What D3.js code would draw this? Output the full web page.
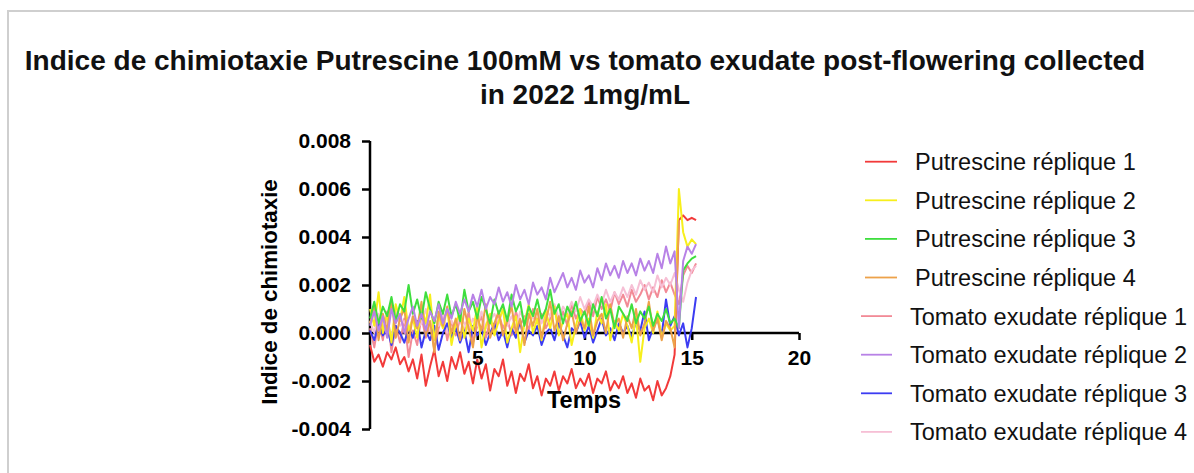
<!DOCTYPE html>
<html>
<head>
<meta charset="utf-8">
<script src="https://cdn.jsdelivr.net/npm/d3@7"></script>
<style>
  html, body { margin: 0; padding: 0; background: #fff; }
  svg { display: block; }
  text { font-family: "Liberation Sans", Arial, sans-serif; }
</style>
</head>
<body>
<svg id="chart" width="1194" height="473"></svg>
<script>
// ---------------- DATA ----------------
const titleLines = ["Indice de chimiotaxie Putrescine 100mM vs tomato exudate post-flowering collected", "in 2022 1mg/mL"];
const xTitle = "Temps";
const yTitle = "Indice de chimiotaxie";
const xTicks = [5, 10, 15, 20];
const yTicks = [-0.004, -0.002, 0.000, 0.002, 0.004, 0.006, 0.008];
const seriesNames = ["Putrescine réplique 1", "Putrescine réplique 2", "Putrescine réplique 3", "Putrescine réplique 4",
  "Tomato exudate réplique 1", "Tomato exudate réplique 2", "Tomato exudate réplique 3", "Tomato exudate réplique 4"];
const seriesColors = ["#f23a3a", "#f7ef1c", "#3ede3e", "#eda24a", "#f28a96", "#b882e6", "#3c3cf2", "#f6bfd5"];

const time = [0,0.2,0.4,0.6,0.8,1,1.2,1.4,1.6,1.8,2,2.2,2.4,2.6,2.8,3,3.2,3.4,3.6,3.8,
  4,4.2,4.4,4.6,4.8,5,5.2,5.4,5.6,5.8,6,6.2,6.4,6.6,6.8,7,7.2,7.4,7.6,7.8,
  8,8.2,8.4,8.6,8.8,9,9.2,9.4,9.6,9.8,10,10.2,10.4,10.6,10.8,11,11.2,11.4,11.6,11.8,
  12,12.2,12.4,12.6,12.8,13,13.2,13.4,13.6,13.8,14,14.2,14.4,14.6,14.8,15,15.2];

const putrescine1 = [-0.0005,-0.0012,-0.0009,-0.0014,-0.0008,-0.0011,-0.0006,-0.0013,-0.0010,-0.0016,
  -0.0011,-0.0019,-0.0009,-0.0022,-0.0014,-0.0007,-0.0018,-0.0012,-0.0020,-0.0010,
  -0.0015,-0.0008,-0.0017,-0.0012,-0.0021,-0.0011,-0.0019,-0.0013,-0.0024,-0.0015,
  -0.0018,-0.0011,-0.0022,-0.0016,-0.0025,-0.0017,-0.0020,-0.0013,-0.0023,-0.0018,
  -0.0026,-0.0019,-0.0022,-0.0016,-0.0024,-0.0018,-0.0021,-0.0015,-0.0023,-0.0019,
  -0.0022,-0.0017,-0.0025,-0.0019,-0.0021,-0.0016,-0.0024,-0.0020,-0.0023,-0.0018,
  -0.0025,-0.0021,-0.0027,-0.0019,-0.0024,-0.0022,-0.0028,-0.0020,-0.0026,-0.0023,
  -0.0018,-0.0009,0.0047,0.0049,0.0047,0.0048,0.0047];
const putrescine2 = [0.0010,0.0003,0.0017,0.0000,0.0008,-0.0004,0.0012,0.0005,0.0015,0.0001,
  0.0006,-0.0002,0.0011,0.0004,0.0016,-0.0003,0.0007,0.0002,0.0010,-0.0005,
  0.0004,0.0009,-0.0002,0.0006,0.0001,0.0011,-0.0006,0.0003,0.0008,-0.0001,
  0.0005,0.0010,-0.0004,0.0002,0.0007,-0.0008,0.0004,0.0012,0.0000,0.0006,
  -0.0003,0.0009,0.0002,0.0011,-0.0001,0.0005,0.0008,-0.0005,0.0003,0.0010,
  0.0001,0.0006,-0.0002,0.0009,0.0004,0.0012,-0.0003,0.0005,0.0001,0.0008,
  0.0003,-0.0004,0.0007,-0.0012,0.0002,0.0006,0.0000,0.0009,-0.0002,0.0004,
  0.0001,0.0003,0.0060,0.0042,0.0036,0.0039,0.0037];
const putrescine3 = [0.0006,0.0013,0.0004,0.0011,0.0007,0.0015,0.0005,0.0012,0.0009,0.0020,
  0.0008,0.0014,0.0006,0.0017,0.0010,0.0004,0.0013,0.0008,0.0016,0.0007,
  0.0012,0.0005,0.0018,0.0009,0.0013,0.0006,0.0015,0.0010,0.0004,0.0014,
  0.0008,0.0012,0.0005,0.0016,0.0009,0.0013,0.0003,0.0011,0.0007,0.0014,
  0.0006,0.0010,0.0018,0.0008,0.0012,0.0004,0.0011,0.0007,0.0013,0.0005,
  0.0009,0.0003,0.0012,0.0007,0.0015,0.0006,0.0010,0.0002,0.0011,0.0008,
  0.0005,0.0012,0.0004,0.0009,0.0006,0.0011,0.0003,0.0008,0.0005,0.0010,
  0.0004,0.0006,0.0002,0.0026,0.0029,0.0031,0.0032];
const putrescine4 = [0.0004,0.0012,-0.0003,0.0008,0.0001,0.0014,-0.0002,0.0006,0.0010,-0.0004,
  0.0007,0.0002,0.0013,-0.0001,0.0005,-0.0008,0.0009,0.0003,0.0011,0.0000,
  0.0006,-0.0003,0.0010,0.0002,-0.0006,0.0007,0.0001,0.0012,-0.0002,0.0004,
  0.0009,-0.0001,0.0005,0.0011,0.0000,0.0006,-0.0005,0.0008,0.0003,0.0010,
  -0.0002,0.0005,0.0013,0.0001,0.0007,-0.0003,0.0004,0.0009,0.0000,0.0006,
  0.0002,0.0011,-0.0001,0.0005,0.0008,0.0000,0.0012,0.0003,0.0006,-0.0002,
  0.0007,0.0002,0.0010,-0.0001,0.0004,0.0013,0.0001,0.0006,-0.0003,0.0005,
  0.0002,-0.0006,0.0047,null,null,null,null];
const tomato1 = [0.0002,-0.0006,0.0005,-0.0003,0.0009,-0.0008,0.0003,-0.0004,0.0006,-0.0010,
  0.0001,-0.0005,0.0007,-0.0002,0.0004,-0.0007,0.0002,0.0008,-0.0003,0.0005,
  -0.0001,0.0006,0.0000,0.0009,-0.0004,0.0003,0.0007,-0.0002,0.0005,0.0001,
  0.0008,0.0002,0.0006,-0.0001,0.0009,0.0003,0.0007,0.0001,0.0010,0.0004,
  0.0008,0.0002,0.0006,0.0011,0.0004,0.0009,0.0003,0.0012,0.0006,0.0010,
  0.0008,0.0013,0.0007,0.0015,0.0010,0.0014,0.0009,0.0017,0.0012,0.0016,
  0.0011,0.0018,0.0013,0.0016,0.0020,0.0014,0.0019,0.0015,0.0022,0.0017,
  0.0021,0.0016,0.0012,0.0024,0.0028,0.0025,0.0029];
const tomato2 = [0.0003,0.0009,0.0001,0.0007,-0.0002,0.0010,0.0004,0.0008,0.0000,0.0006,
  0.0011,0.0003,0.0008,0.0001,0.0009,0.0005,0.0012,0.0004,0.0010,0.0006,
  0.0013,0.0008,0.0014,0.0009,0.0016,0.0011,0.0018,0.0010,0.0015,0.0012,
  0.0019,0.0013,0.0017,0.0011,0.0020,0.0014,0.0018,0.0012,0.0021,0.0016,
  0.0019,0.0014,0.0023,0.0017,0.0021,0.0025,0.0019,0.0023,0.0018,0.0026,
  0.0021,0.0024,0.0019,0.0027,0.0022,0.0029,0.0024,0.0028,0.0023,0.0030,
  0.0025,0.0029,0.0024,0.0031,0.0026,0.0030,0.0025,0.0033,0.0027,0.0036,
  0.0029,0.0034,0.0002,0.0030,0.0036,0.0033,0.0037];
const tomato3 = [0.0001,-0.0003,0.0004,-0.0001,0.0002,-0.0005,0.0003,0.0000,-0.0004,0.0002,
  -0.0002,0.0005,-0.0006,0.0001,-0.0003,0.0003,-0.0007,0.0000,0.0004,-0.0002,
  0.0002,-0.0004,0.0001,-0.0008,0.0003,-0.0001,0.0002,-0.0005,0.0000,0.0004,
  -0.0003,0.0001,-0.0006,0.0002,-0.0002,0.0005,-0.0004,0.0001,-0.0001,0.0003,
  -0.0005,0.0000,0.0002,-0.0003,0.0004,-0.0001,-0.0006,0.0002,0.0000,0.0005,
  -0.0002,0.0003,-0.0004,0.0001,0.0006,-0.0001,0.0002,-0.0003,0.0004,0.0000,
  0.0003,-0.0002,0.0005,0.0001,0.0009,-0.0003,0.0002,0.0006,-0.0001,0.0014,
  0.0003,0.0007,-0.0001,0.0004,-0.0006,0.0002,0.0015];
const tomato4 = [0.0005,0.0000,0.0008,0.0002,0.0006,-0.0002,0.0009,0.0003,0.0005,0.0001,
  0.0007,0.0002,0.0004,0.0010,0.0001,0.0006,0.0003,0.0008,0.0000,0.0005,
  0.0002,0.0007,0.0004,0.0001,0.0006,0.0003,0.0009,0.0002,0.0005,0.0008,
  0.0004,0.0010,0.0003,0.0007,0.0002,0.0009,0.0005,0.0011,0.0006,0.0009,
  0.0004,0.0010,0.0007,0.0012,0.0006,0.0011,0.0008,0.0013,0.0009,0.0015,
  0.0010,0.0014,0.0011,0.0016,0.0012,0.0018,0.0013,0.0017,0.0014,0.0019,
  0.0015,0.0020,0.0016,0.0022,0.0018,0.0021,0.0017,0.0024,0.0019,0.0023,
  0.0020,0.0025,0.0018,0.0013,0.0021,0.0026,0.0028];

const seriesValues = [putrescine1, putrescine2, putrescine3, putrescine4, tomato1, tomato2, tomato3, tomato4];

// ---------------- DRAW ----------------
const svg = d3.select("#chart");

// frame
svg.append("path").attr("d", "M8,473 L8,11 L1194,11")
  .attr("fill", "none").attr("stroke", "#cfcfcf").attr("stroke-width", 2);

// title
svg.selectAll("text.title").data(titleLines).join("text")
  .attr("class", "title")
  .attr("x", 585).attr("y", (d, i) => 70 + i * 34)
  .attr("text-anchor", "middle")
  .attr("font-size", 28).attr("font-weight", "bold").attr("fill", "#111")
  .text(d => d);

const x = d3.scaleLinear().domain([0, 20]).range([370, 799]);
const y = d3.scaleLinear().domain([-0.004, 0.008]).range([429, 141]);

const fmtY = v => d3.format(".3f")(v).replace("\u2212", "-");

// axes lines (under data)
const xAxis = d3.axisBottom(x).tickValues(xTicks).tickSize(7).tickSizeOuter(0).tickFormat(d3.format("d"));
const yAxis = d3.axisLeft(y).tickValues(yTicks).tickSize(8).tickSizeOuter(0).tickFormat(fmtY);

const gx = svg.append("g").attr("transform", `translate(0,${y(0)})`).call(xAxis);
const gy = svg.append("g").attr("transform", `translate(${x(0)},0)`).call(yAxis);
[gx, gy].forEach(g => {
  g.select(".domain").attr("stroke", "#000").attr("stroke-width", 2.5);
  g.selectAll(".tick line").attr("stroke", "#000").attr("stroke-width", 2.5);
  g.selectAll(".tick text").remove();
});
gy.select(".domain").attr("d", `M0,${y(0.008)}V${y(-0.004)}`);
gx.select(".domain").attr("d", `M${x(0)},0H${x(20)}`);

// data lines
const line = d3.line()
  .defined(d => d[1] !== null)
  .x(d => x(d[0]))
  .y(d => y(d[1]));

const order = [0, 4, 7, 6, 1, 3, 2, 5];
svg.append("g").selectAll("path").data(order).join("path")
  .attr("fill", "none")
  .attr("stroke", i => seriesColors[i])
  .attr("stroke-width", 2)
  .attr("stroke-linejoin", "round")
  .attr("d", i => line(time.map((t, k) => [t, seriesValues[i][k]])));

// tick labels on top
const gxl = svg.append("g").attr("transform", `translate(0,${y(0)})`).call(xAxis);
gxl.select(".domain").remove();
gxl.selectAll(".tick line").remove();
gxl.selectAll(".tick text").attr("font-size", 21).attr("font-weight", "bold").attr("fill", "#000")
  .attr("font-family", "Liberation Sans, Arial, sans-serif").attr("dy", "0.71em").attr("y", 17);

const gyl = svg.append("g").attr("transform", `translate(${x(0)},0)`).call(yAxis);
gyl.select(".domain").remove();
gyl.selectAll(".tick line").remove();
gyl.selectAll(".tick text").attr("font-size", 21).attr("font-weight", "bold").attr("fill", "#000")
  .attr("font-family", "Liberation Sans, Arial, sans-serif").attr("x", -19);

// axis titles
svg.append("text").attr("x", 584).attr("y", 408).attr("text-anchor", "middle")
  .attr("font-size", 23.5).attr("font-weight", "bold").text(xTitle);
svg.append("text").attr("transform", "translate(277,292) rotate(-90)").attr("text-anchor", "middle")
  .attr("font-size", 22.3).attr("font-weight", "bold").text(yTitle);

// legend
const lg = svg.append("g");
const rows = lg.selectAll("g").data(seriesNames).join("g")
  .attr("transform", (d, i) => `translate(0,${161.7 + i * 38.6})`);
rows.append("line")
  .attr("x1", (d, i) => i < 4 ? 865 : 861).attr("x2", (d, i) => i < 4 ? 897 : 892)
  .attr("y1", 0).attr("y2", 0)
  .attr("stroke", (d, i) => seriesColors[i]).attr("stroke-width", 1.8);
rows.append("text")
  .attr("x", (d, i) => i < 4 ? 915 : 910).attr("dy", "0.36em")
  .attr("font-size", 23.5).attr("fill", "#111")
  .text(d => d);
</script>
</body>
</html>
